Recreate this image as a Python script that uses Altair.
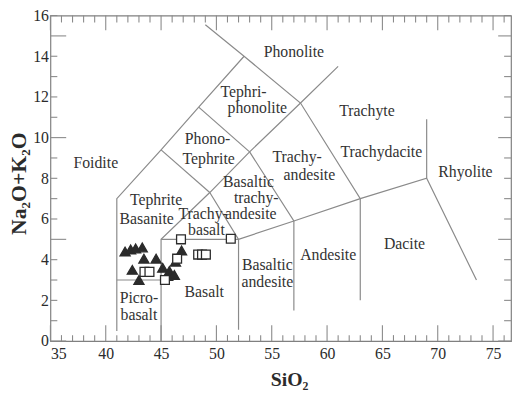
import altair as alt
import pandas as pd

# ---------------- data ----------------
boundary_lines = {
    "A": [(41, 0.5), (41, 7), (45, 9.4), (48.4, 11.5), (52.5, 14)],
    "B": [(41, 3), (45, 3)],
    "C": [(45, 0), (45, 5), (49.4, 7.3), (53, 9.3), (57.6, 11.7), (61, 13.5)],
    "D": [(45, 9.4), (49.4, 7.3)],
    "E": [(48.4, 11.5), (53, 9.3)],
    "F": [(49.0, 15.55), (52.5, 14), (57.6, 11.7), (63, 7), (63, 2.0)],
    "G": [(45, 5), (52, 5), (57, 5.9), (63, 7), (69, 8), (73.5, 3.0)],
    "H": [(49.4, 7.3), (52, 5), (52, 0.55)],
    "I": [(53, 9.3), (57, 5.9), (57, 1.5)],
    "J": [(69, 8), (69, 10.9)],
}

field_text = ["Phonolite", "Tephri-", "phonolite", "Phono-", "Tephrite", "Foidite",
              "Tephrite", "Basanite", "Trachy-", "basalt", "Basaltic", "trachy-",
              "andesite", "Trachy-", "andesite", "Trachyte", "Trachydacite",
              "Rhyolite", "Dacite", "Andesite", "Basaltic", "andesite", "Basalt",
              "Picro-", "basalt"]
field_x = [57.0, 52.45, 53.7, 49.2, 49.3, 39.1,
           44.55, 43.7, 48.8, 49.1, 52.9, 53.6,
           53.1, 57.3, 58.4, 63.6, 64.9,
           72.5, 67.0, 60.1, 54.6, 54.6, 48.9,
           43.0, 43.0]
field_y = [14.2, 12.25, 11.45, 9.95, 8.95, 8.75,
           6.95, 6.0, 6.25, 5.45, 7.8, 7.05,
           6.25, 9.05, 8.15, 11.3, 9.3,
           8.3, 4.75, 4.25, 3.75, 2.9, 2.4,
           2.1, 1.3]

garita_sio2 = [46.8, 46.45, 43.5, 43.95, 45.35, 51.3, 48.35, 48.7, 49.05]
garita_alk = [5.0, 4.05, 3.4, 3.4, 3.0, 5.03, 4.25, 4.25, 4.25]
guaya_sio2 = [41.75, 42.25, 42.7, 43.3, 43.45, 44.55, 42.4, 43.0, 45.15, 45.75,
              45.6, 46.2, 46.85, 46.3]
guaya_alk = [4.4, 4.5, 4.55, 4.6, 4.05, 4.05, 3.5, 3.0, 3.6, 3.45,
             3.2, 3.25, 4.45, 3.9]
series_names = ["Fm. La Garita", "Fm. Guayacán"]

x_labels = [35, 40, 45, 50, 55, 60, 65, 70, 75]
y_labels = [0, 2, 4, 6, 8, 10, 12, 14, 16]
x_ticks = list(range(35, 77))
y_ticks = list(range(0, 17))

# ---------------- tables ----------------
rows = []
for seg, pts in boundary_lines.items():
    for i, (x, y) in enumerate(pts):
        rows.append({"seg": seg, "o": i, "x": x, "y": y})
lines_df = pd.DataFrame(rows)

fields_df = pd.DataFrame({"t": field_text, "x": field_x, "y": field_y})

pts_df = pd.concat([
    pd.DataFrame({"x": guaya_sio2, "y": guaya_alk, "fm": series_names[1]}),
    pd.DataFrame({"x": garita_sio2, "y": garita_alk, "fm": series_names[0]}),
], ignore_index=True)

xt_df = pd.DataFrame({"v": x_ticks, "major": [v % 5 == 0 for v in x_ticks]})
yt_df = pd.DataFrame({"v": y_ticks, "major": [v % 5 == 0 for v in y_ticks]})

# ---------------- chart ----------------
W, H = 467, 330
FONT = "'Liberation Serif', 'Times New Roman', Times, 'DejaVu Serif', serif"
LINE = "#8a8a8a"
INK = "#2b2b2b"

xscale = alt.Scale(domain=[35, 35 + W / 11.22], nice=False, zero=False)
yscale = alt.Scale(domain=[0, 16], nice=False, zero=False)

xaxis = alt.Axis(values=x_labels, ticks=False, domain=False, grid=False,
                 labelFont=FONT, labelFontSize=16, labelPadding=5, labelColor=INK,
                 title="SiO₂", titleFont=FONT, titleFontSize=20, titleFontWeight="bold",
                 titleColor=INK, titleX=242, titleY=45, titleBaseline="alphabetic")
yaxis = alt.Axis(values=y_labels, ticks=False, domain=False, grid=False,
                 labelFont=FONT, labelFontSize=16, labelPadding=2, labelColor=INK,
                 title="Na₂O+K₂O", titleFont=FONT, titleFontSize=22, titleFontWeight="bold",
                 titleColor=INK, titleX=-25, titleY=170, titleBaseline="alphabetic")

lines = alt.Chart(lines_df).mark_line(color=LINE, strokeWidth=1.2).encode(
    x=alt.X("x:Q", scale=xscale, axis=xaxis),
    y=alt.Y("y:Q", scale=yscale, axis=yaxis),
    detail="seg:N",
    order="o:Q",
)

def xtick_layer(major, top, length):
    base = alt.Chart(xt_df).transform_filter(
        "datum.major" if major else "!datum.major"
    ).mark_rule(color=LINE, strokeWidth=1.1)
    if top:
        return base.encode(x=alt.X("v:Q", scale=xscale), y=alt.value(0), y2=alt.value(length))
    return base.encode(x=alt.X("v:Q", scale=xscale), y=alt.value(H), y2=alt.value(H - length))

def ytick_layer(major, right, length):
    base = alt.Chart(yt_df).transform_filter(
        "datum.major" if major else "!datum.major"
    ).mark_rule(color=LINE, strokeWidth=1.1)
    if right:
        return base.encode(y=alt.Y("v:Q", scale=yscale), x=alt.value(W), x2=alt.value(W - length))
    return base.encode(y=alt.Y("v:Q", scale=yscale), x=alt.value(0), x2=alt.value(length))

ticks = [
    xtick_layer(False, False, 6), xtick_layer(True, False, 16),
    xtick_layer(False, True, 7), xtick_layer(True, True, 15),
    ytick_layer(False, False, 7), ytick_layer(True, False, 16),
    ytick_layer(False, True, 7), ytick_layer(True, True, 13),
]

labels = alt.Chart(fields_df).mark_text(
    font=FONT, fontSize=16, color="#333333", align="center", baseline="middle"
).encode(x=alt.X("x:Q", scale=xscale), y=alt.Y("y:Q", scale=yscale), text="t:N")

legend = alt.Legend(orient="none", legendX=324, legendY=25, title=None,
                    strokeColor="#777777", padding=6, fillColor="white",
                    labelFont=FONT, labelFontSize=18, labelColor=INK,
                    symbolSize=100, symbolStrokeWidth=1.3, symbolStrokeColor=INK,
                    rowPadding=7, labelOffset=3)

points = alt.Chart(pts_df).mark_point(
    filled=True, stroke=INK, strokeWidth=1.3, opacity=1
).encode(
    x=alt.X("x:Q", scale=xscale),
    y=alt.Y("y:Q", scale=yscale),
    shape=alt.Shape("fm:N", scale=alt.Scale(domain=series_names, range=["square", "triangle-up"]),
                    legend=legend),
    fill=alt.Fill("fm:N", scale=alt.Scale(domain=series_names, range=["white", INK]),
                  legend=legend),
    size=alt.Size("fm:N", scale=alt.Scale(domain=series_names, range=[80, 105]), legend=None),
)

chart = alt.layer(lines, *ticks, labels, points).properties(
    width=W, height=H,
    autosize=alt.AutoSizeParams(type="none"),
    padding={"left": 43, "top": 5, "right": 1, "bottom": 50},
).configure(font=FONT).configure_view(stroke="#808080", strokeWidth=1.2)

chart.save("out.html", embed_options={"renderer": "svg", "actions": False})
